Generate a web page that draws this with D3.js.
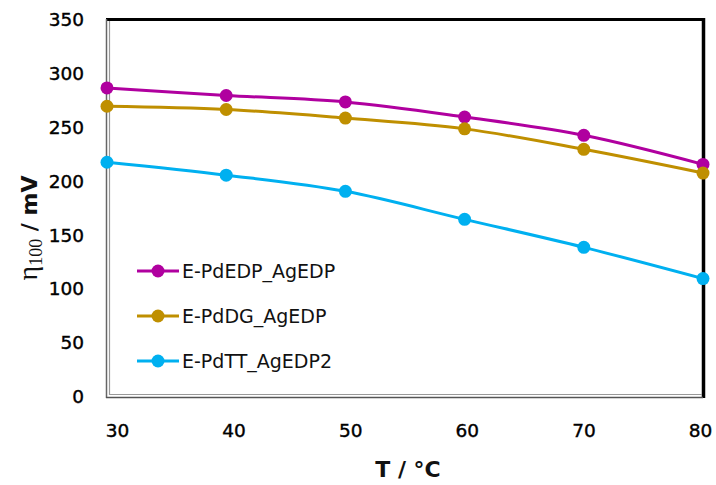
<!DOCTYPE html>
<html><head><meta charset="utf-8">
<script src="https://cdn.jsdelivr.net/npm/d3@7/dist/d3.min.js"></script>
<style>body{margin:0;background:#fff}svg{display:block}</style>
</head><body><svg id="c" width="716" height="485"></svg>
<script>
const temps = [30, 40, 50, 60, 70, 80];
const seriesNames = ["E-PdEDP_AgEDP", "E-PdDG_AgEDP", "E-PdTT_AgEDP2"];
const pdEdp = [286, 279, 273, 259, 242, 215];
const pdDg = [269, 266, 258, 248, 229, 207];
const pdTt = [217, 205, 190, 164, 138, 109];
const seriesColors = ["#B0009F", "#BF8F00", "#00B0F0"];
const yTicks = [0, 50, 100, 150, 200, 250, 300, 350];
const xTicks = [30, 40, 50, 60, 70, 80];

const series = [pdEdp, pdDg, pdTt].map((v, i) => ({name: seriesNames[i], color: seriesColors[i], values: v}));

const svg = d3.select("#c");
const L = 107, R = 703, T = 19, B = 396;
const x = d3.scaleLinear().domain([30, 80]).range([L, R]);
const xLab = d3.scaleLinear().domain([30, 80]).range([117, 700]);
const y = d3.scaleLinear().domain([0, 350]).range([B, T]);

const tickFont = "'DejaVu Sans', sans-serif";

// y axis labels
const ya = svg.append("g").attr("transform", "translate(84,0)")
  .call(d3.axisLeft(y).tickValues(yTicks).tickSize(0).tickPadding(0));
ya.select(".domain").remove();
ya.selectAll("text").attr("font-family", tickFont).attr("font-size", 18.5).attr("fill", "#000")
  .attr("stroke", "#000").attr("stroke-width", 0.4).attr("dy", "0.36em");

// x axis labels
const xa = svg.append("g").attr("transform", "translate(0,424)")
  .call(d3.axisBottom(xLab).tickValues(xTicks).tickSize(0).tickPadding(0));
xa.select(".domain").remove();
xa.selectAll("text").attr("font-family", tickFont).attr("font-size", 18.5).attr("fill", "#000")
  .attr("stroke", "#000").attr("stroke-width", 0.4).attr("dy", "0.71em");

// frame
const fr = svg.append("g");
fr.append("line").attr("x1", L - 1).attr("x2", R + 2).attr("y1", 19.5).attr("y2", 19.5).attr("stroke", "#000").attr("stroke-width", 3);
fr.append("line").attr("x1", R + 0.5).attr("x2", R + 0.5).attr("y1", 18).attr("y2", B + 2).attr("stroke", "#000").attr("stroke-width", 3.5);
fr.append("line").attr("x1", L - 0.5).attr("x2", L - 0.5).attr("y1", 19).attr("y2", B + 2).attr("stroke", "#666").attr("stroke-width", 1.5);
fr.append("line").attr("x1", L + 2.5).attr("x2", L + 2.5).attr("y1", 21).attr("y2", B - 1).attr("stroke", "#999").attr("stroke-width", 1.2);
fr.append("line").attr("x1", L - 1).attr("x2", R).attr("y1", B + 1.5).attr("y2", B + 1.5).attr("stroke", "#555").attr("stroke-width", 1.5);
fr.append("line").attr("x1", L + 2).attr("x2", R - 1).attr("y1", B - 1.5).attr("y2", B - 1.5).attr("stroke", "#999").attr("stroke-width", 1.2);

// lines
const line = d3.line().x((d, i) => x(temps[i])).y(d => y(d)).curve(d3.curveCatmullRom.alpha(0.5));
series.forEach(s => {
  svg.append("path").datum(s.values).attr("d", line).attr("fill", "none")
    .attr("stroke", s.color).attr("stroke-width", 3);
  svg.append("g").selectAll("circle").data(s.values).join("circle")
    .attr("cx", (d, i) => x(temps[i])).attr("cy", d => y(d)).attr("r", 6.5).attr("fill", s.color);
});

// legend
const legY = [271, 316, 361];
series.forEach((s, i) => {
  const g = svg.append("g").attr("transform", `translate(0,${legY[i]})`);
  g.append("line").attr("x1", 137).attr("x2", 179).attr("stroke", s.color).attr("stroke-width", 3);
  g.append("circle").attr("cx", 158).attr("r", 6.5).attr("fill", s.color);
  g.append("text").attr("x", 182).attr("dy", "0.36em").attr("font-family", tickFont)
    .attr("font-size", 19).attr("fill", "#111").text(s.name);
});

// axis titles
svg.append("text").attr("x", 408).attr("y", 477).attr("text-anchor", "middle")
  .attr("font-family", tickFont).attr("font-weight", "bold").attr("font-size", 22).attr("fill", "#111")
  .text("T / °C");

const yt = svg.append("text").attr("transform", "translate(37,228) rotate(-90)").attr("text-anchor", "middle").attr("fill", "#111");
yt.append("tspan").attr("font-family", "'Liberation Serif', serif").attr("font-size", 28).text("η");
yt.append("tspan").attr("font-family", "'Liberation Serif', serif").attr("font-size", 18).attr("dy", 5).text("100");
yt.append("tspan").attr("font-family", tickFont).attr("font-weight", "bold").attr("font-size", 22).attr("dy", -5).text(" / mV");
</script></body></html>
